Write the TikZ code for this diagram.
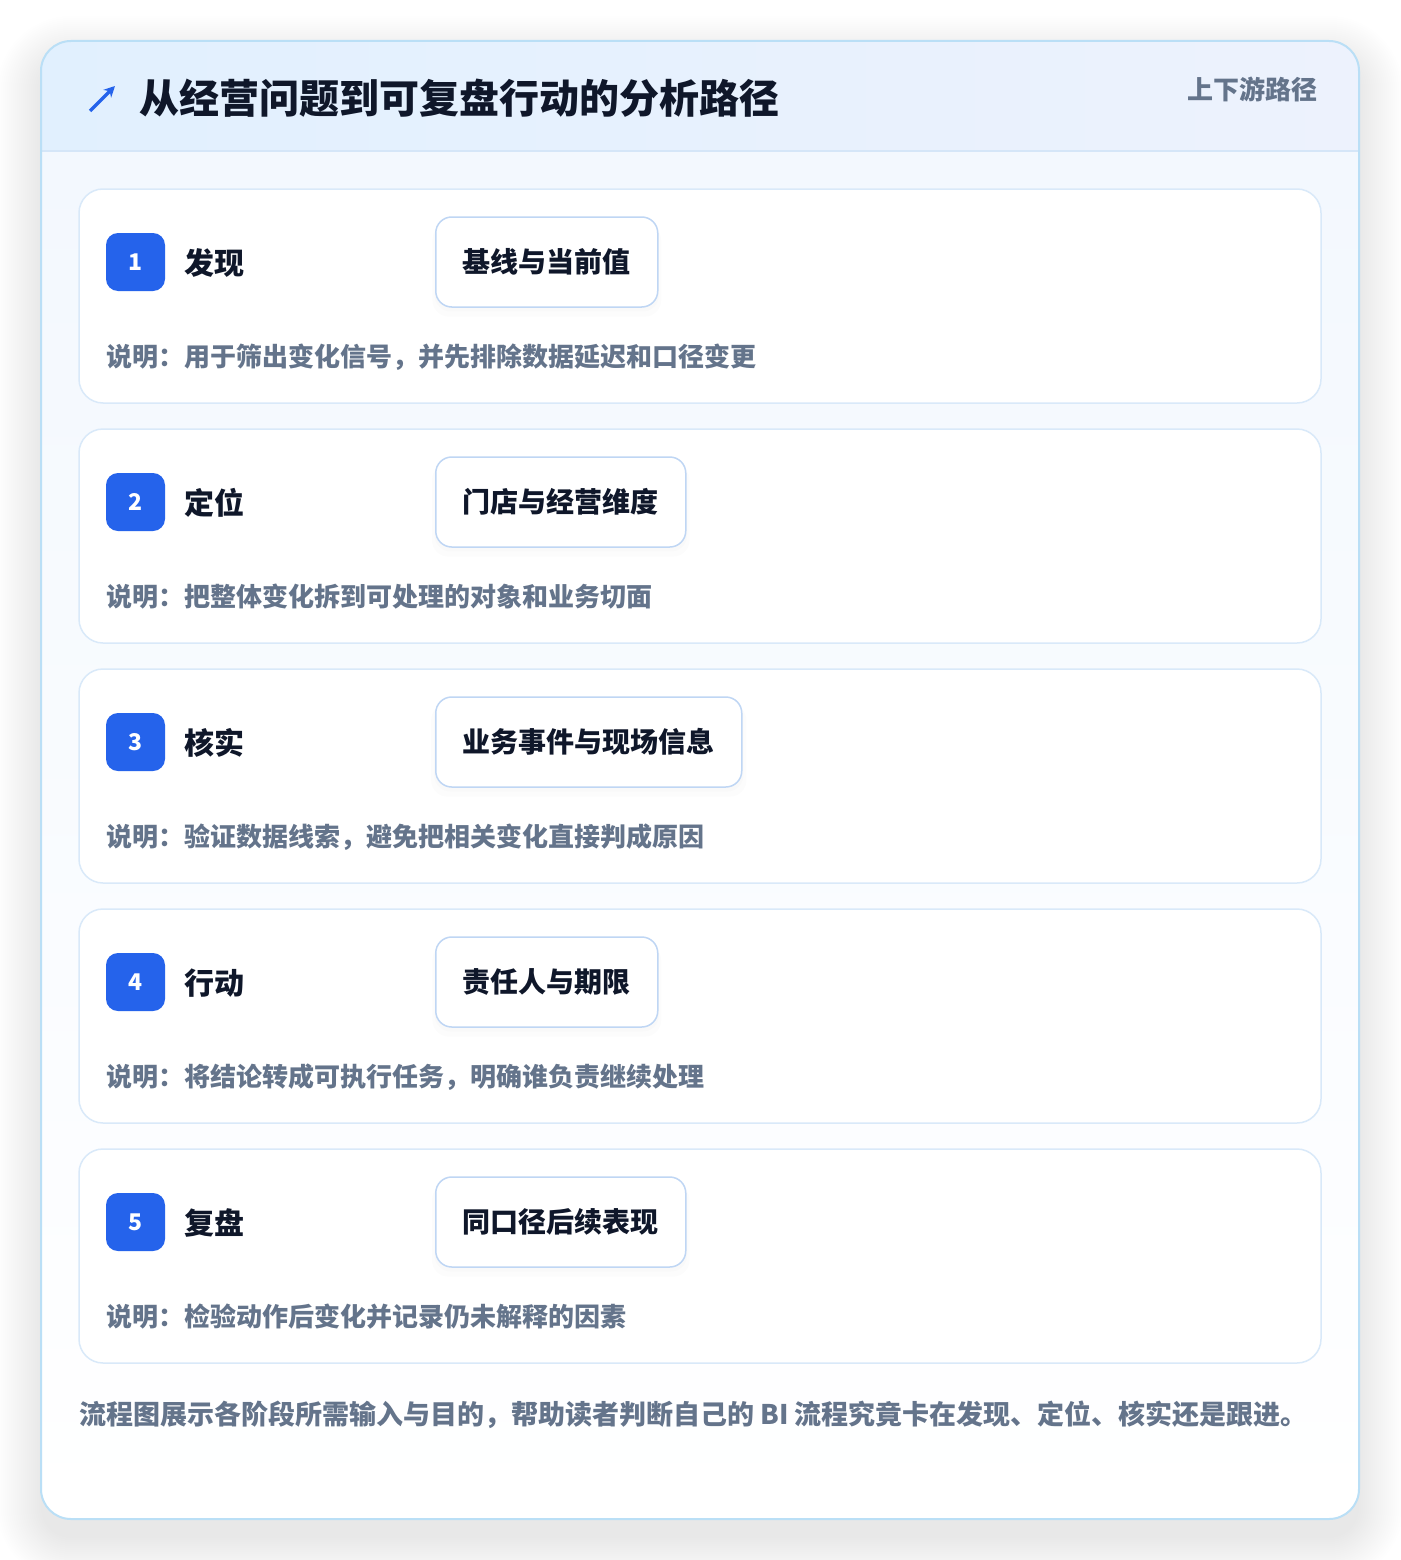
\documentclass[tikz,border=0pt]{standalone}
\usepackage{fontspec}
\setmainfont{Noto Sans CJK SC}
\usetikzlibrary{arrows.meta,shadows}
\definecolor{pagebg}{HTML}{FFFFFF}
\definecolor{outline}{HTML}{BADFF6}
\definecolor{hdrL}{HTML}{E1F0FE}
\definecolor{hdrR}{HTML}{EDF2FD}
\definecolor{hdrline}{HTML}{D5E6F8}
\definecolor{bodyT}{HTML}{F3F8FE}
\definecolor{bodyB}{HTML}{FFFFFF}
\definecolor{cardline}{HTML}{D9E9F9}
\definecolor{badgeblue}{HTML}{2563EB}
\definecolor{inline}{HTML}{BFD6F4}
\definecolor{ink}{HTML}{0F172A}
\definecolor{muted}{HTML}{64748B}
\tikzset{
  cardbox/.style={draw=cardline, line width=1.5pt, fill=white, rounded corners=24pt},
  badge/.style={fill=badgeblue, rounded corners=12pt, minimum width=59pt, minimum height=58pt,
    inner sep=0pt, text=white, font=\bfseries\fontsize{23}{27}\selectfont},
  stagetxt/.style={anchor=west, inner sep=0pt, text=ink, font=\bfseries\fontsize{30}{36}\selectfont},
  inbox/.style={anchor=west, draw=inline, line width=1.5pt, fill=white, rounded corners=16pt,
    minimum height=90pt, inner sep=0pt, text=ink, font=\bfseries\fontsize{28}{34}\selectfont,
    drop shadow={opacity=0.025, shadow xshift=0pt, shadow yshift=-8pt, shadow scale=1.03},
    drop shadow={opacity=0.025, shadow xshift=0pt, shadow yshift=-4pt, shadow scale=1.01}},
  desctxt/.style={anchor=west, inner sep=0pt, text=muted, font=\bfseries\fontsize{26}{30}\selectfont},
}
\begin{document}
\begin{tikzpicture}[x=1pt,y=-1pt]
\useasboundingbox (0,0) rectangle (1400,1560);
\fill[pagebg] (0,0) rectangle (1400,1560);
% soft shadow of the outer card
\foreach \i in {0,...,22}{
  \pgfmathsetmacro\e{\i*2}
  \pgfmathsetmacro\r{30+\e}
  \fill[black, opacity=0.0045, rounded corners=\r pt] (41-\e,60-\e) rectangle (1359+\e,1538+\e);
}
% outer card
\begin{scope}
  \clip[rounded corners=30pt] (41,41) rectangle (1359,1519);
  \fill[top color=bodyT, bottom color=bodyB] (41,151) rectangle (1359,1519);
  \fill[left color=hdrL, right color=hdrR] (41,41) rectangle (1359,151);
  \draw[hdrline, line width=1.5pt] (41,151) -- (1359,151);
\end{scope}
\draw[outline, line width=2pt, rounded corners=30pt] (41,41) rectangle (1359,1519);
% header
\coordinate (arrS) at (90,111);
\coordinate (arrE) at (115,86);
\draw[badgeblue, line width=3.2pt, -{Stealth[length=11pt,width=11pt]}] (arrS) -- (arrE);
\node[anchor=west, inner sep=0pt, text=ink, font=\bfseries\fontsize{40}{46}\selectfont] (title) at (139,98) {从经营问题到可复盘行动的分析路径};
\node[anchor=east, inner sep=0pt, text=muted, font=\bfseries\fontsize{26}{30}\selectfont] (tag) at (1318,89) {上下游路径};
% stage cards
\foreach \n/\name/\inp/\w/\desc [count=\k from 0] in {
  1/发现/基线与当前值/222/说明：用于筛出变化信号，并先排除数据延迟和口径变更,
  2/定位/门店与经营维度/250/说明：把整体变化拆到可处理的对象和业务切面,
  3/核实/业务事件与现场信息/306/说明：验证数据线索，避免把相关变化直接判成原因,
  4/行动/责任人与期限/222/说明：将结论转成可执行任务，明确谁负责继续处理,
  5/复盘/同口径后续表现/250/说明：检验动作后变化并记录仍未解释的因素}{
  \pgfmathsetmacro\y{189+240*\k}
  \path[cardbox] (79,\y) rectangle (1321,\y+214);
  \node[badge] (b\n) at (135.5,\y+73) {\n};
  \node[stagetxt] (s\n) at (184,\y+74) {\name};
  \node[inbox, minimum width=\w pt] (i\n) at (435,\y+73) {\inp};
  \node[desctxt] (d\n) at (106,\y+168) {\desc};
}
% footnote
\node[anchor=west, inner sep=0pt, text=muted, font=\bfseries\fontsize{27}{32}\selectfont] (note) at (79,1415) {流程图展示各阶段所需输入与目的，帮助读者判断自己的 BI 流程究竟卡在发现、定位、核实还是跟进。};
\end{tikzpicture}
\end{document}
